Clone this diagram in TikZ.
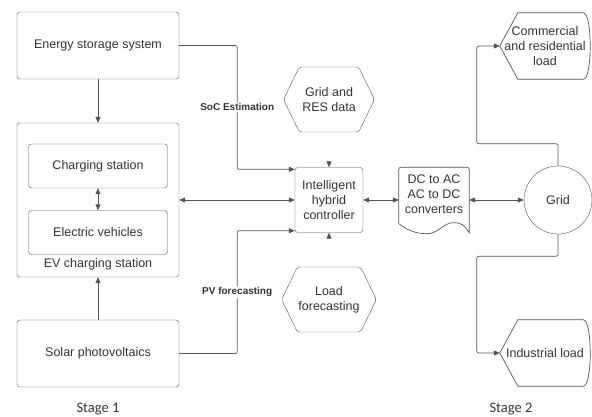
\documentclass[tikz,border=0pt]{standalone}
\usepackage{fontspec}
\setmainfont{Liberation Sans}
\newfontfamily\stagefont{Carlito}
\usepackage{xcolor}
\usetikzlibrary{positioning}
\usetikzlibrary{arrows.meta,shapes.symbols}
\definecolor{linec}{HTML}{555555}
\definecolor{textc}{HTML}{333333}

\begin{document}
\begin{tikzpicture}[x=1pt,y=1pt,on grid,
    >={Triangle[length=6pt,width=5pt]},
    every node/.style={text=textc,font=\fontsize{12.5}{15}\selectfont,align=center},
    block/.style={draw=linec,rounded corners=3pt,minimum width=162pt,minimum height=67pt},
    subblock/.style={draw=linec,rounded corners=3pt,minimum width=139pt,minimum height=44pt},
    hexa/.style={draw=linec,shape=signal,signal to=east and west,signal pointer angle=128,
      minimum width=91pt,minimum height=65pt,inner sep=1pt,rounded corners=2pt},
    disp/.style={minimum width=90pt,minimum height=66pt,inner sep=1pt,
      append after command={\pgfextra{\draw[draw=linec,line width=0.7pt]
        ([xshift=18pt]\tikzlastnode.north west) -- (\tikzlastnode.west)
        -- ([xshift=18pt]\tikzlastnode.south west) -- ([xshift=-7pt]\tikzlastnode.south east)
        .. controls +(5pt,0) and +(0,-16pt) .. (\tikzlastnode.east)
        .. controls +(0,16pt) and +(5pt,0) .. ([xshift=-7pt]\tikzlastnode.north east) -- cycle;}}},
    docu/.style={minimum width=70pt,minimum height=65pt,inner sep=1pt,text depth=12pt,
      append after command={\pgfextra{\draw[draw=linec,line width=0.7pt]
        ([yshift=9pt]\tikzlastnode.south west) [rounded corners=2pt] -- (\tikzlastnode.north west)
        -- (\tikzlastnode.north east) [sharp corners] -- (\tikzlastnode.south east)
        .. controls +(-5pt,8pt) and +(8pt,0) .. ([xshift=-16pt,yshift=10pt]\tikzlastnode.south east)
        .. controls +(-10pt,0) and +(12pt,0) .. ([xshift=28pt,yshift=-1pt]\tikzlastnode.south west)
        .. controls +(-12pt,0) and +(8pt,-6pt) .. ([yshift=9pt]\tikzlastnode.south west);}}},
    gridc/.style={draw=linec,circle,minimum size=68pt},
    lab/.style={font=\bfseries\fontsize{10}{12}\selectfont,fill=white,inner sep=1pt},
    stage/.style={font=\stagefont\fontsize{14.5}{17}\selectfont},
    link/.style={draw=linec,line width=0.7pt,rounded corners=2pt},
    faint/.style={draw=linec!4,line width=0.7pt,-{Triangle[length=6pt,width=5pt,color=linec,fill=linec]}}]
  \useasboundingbox (0,0) rectangle (592,-416);
  % stage 1
  \node[block] (ess) at (98,-45.5) {Energy storage system};
  \node[block,minimum height=154pt] (evs) [below=154.5pt of ess] {};
  \node[subblock] (cs) [above=34pt of evs] {Charging station};
  \node[subblock] (ev) [below=32.5pt of evs] {Electric vehicles};
  \node (evtxt) [below=64pt of evs] {EV charging station};
  \node[block] (pv) [below=153.5pt of evs] {Solar photovoltaics};
  \node[stage] (st1) [below=55.5pt of pv] {Stage 1};
  % controller
  \node[draw=linec,rounded corners=3pt,minimum width=68pt,minimum height=65pt] (ihc) [right=231pt of evs] {Intelligent\\hybrid\\controller};
  \node[hexa] (gres) [above=100.5pt of ihc] {Grid and\\RES data};
  \node[hexa] (loadf) [below=99.5pt of ihc] {Load\\forecasting};
  \node[docu] (conv) [right=105pt of ihc] {DC to AC\\AC to DC\\converters};
  % stage 2
  \node[gridc] (grid) [right=124pt of conv] {Grid};
  \node[disp] (comm) [above left=154pt and 13pt of grid] {Commercial\\and residential\\load};
  \node[disp] (ind) [below left=153pt and 13pt of grid] {Industrial load};
  \node[stage] (st2) [below left=56pt and 34pt of ind] {Stage 2};

  \draw[link,->] (ess) -- (evs);
  \draw[link,<->] (cs) -- (ev);
  \draw[link,->] (pv) -- (evs);
  \draw[link,->] (ess.east) -- ++(58,0) |- node[lab,pos=0.25] {SoC Estimation} ([yshift=-2pt]ihc.north west);
  \draw[link,<->] (evs) -- (ihc);
  \draw[link,->] (pv.east) -- ++(58,0) |- node[lab,pos=0.25] {PV forecasting} ([yshift=2pt]ihc.south west);
  \draw[faint] (gres) -- (ihc);
  \draw[faint] (loadf) -- (ihc);
  \draw[link,<->] (ihc) -- (conv);
  \draw[link,<->] (conv) -- (grid);
  \draw[link,->] (grid.north) -- ++(0,22) -| ([xshift=-23pt]comm.west) -- (comm.west);
  \draw[link,->] (grid.south) -- ++(0,-22) -| ([xshift=-23pt]ind.west) -- (ind.west);
\end{tikzpicture}
\end{document}
